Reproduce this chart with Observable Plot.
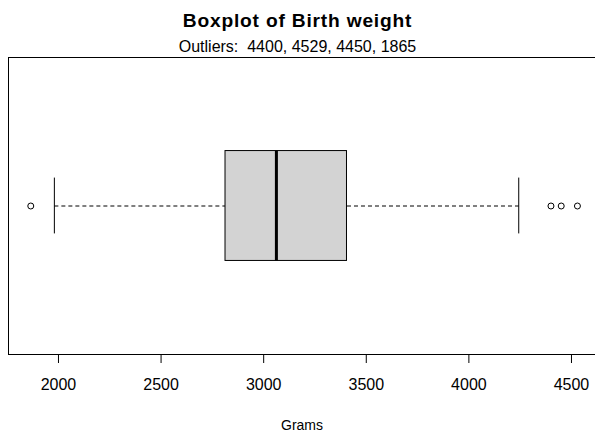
<!DOCTYPE html>
<html>
<head>
<meta charset="utf-8">
<script src="https://cdn.jsdelivr.net/npm/d3@7"></script>
<script src="https://cdn.jsdelivr.net/npm/@observablehq/plot@0.6"></script>
<style>
  html, body { margin: 0; padding: 0; background: #fff; }
  #wrap { position: relative; width: 595px; height: 436px; font-family: "Liberation Sans", Arial, sans-serif; color: #000; }
  #title { position: absolute; left: 0; width: 595px; top: 10.5px; text-align: center; font-weight: bold; font-size: 19.2px; line-height: 19.2px; letter-spacing: 0.8px; white-space: pre; }
  #subtitle { position: absolute; left: 0; width: 595px; top: 38.5px; text-align: center; font-size: 16px; line-height: 16px; white-space: pre; }
  #chart { position: absolute; left: 0; top: 56px; }
</style>
</head>
<body>
<div id="wrap">
  <div id="title"></div>
  <div id="subtitle"></div>
  <div id="chart"></div>
</div>
<script>
// ---- data ----
const titleText = "Boxplot of Birth weight";
const axisLabel = "Grams";
const groups = [1];                 // single boxplot position
const lowerWhisker = [1980];
const lowerHinge = [2814];
const medians = [3062];
const upperHinge = [3406];
const upperWhisker = [4243];
const outliers = [4400, 4529, 4450, 1865];
const tickValues = [2000, 2500, 3000, 3500, 4000, 4500];

// ---- table built from the arrays ----
const boxes = groups.map((g, i) => ({
  g, lo: lowerWhisker[i], q1: lowerHinge[i], med: medians[i], q3: upperHinge[i], hi: upperWhisker[i]
}));
const outlierRows = outliers.map(v => ({g: groups[0], v}));

document.getElementById("title").textContent = titleText;
document.getElementById("subtitle").textContent = "Outliers:  " + outliers.join(", ");

const boxHalf = 0.185;   // half box height in y units
const capHalf = 0.094;   // half staple height

const plot = Plot.plot({
  width: 595,
  height: 380,
  marginLeft: 8,
  marginRight: 0,
  marginTop: 1,
  marginBottom: 82,
  style: {fontFamily: '"Liberation Sans", Arial, sans-serif', fontSize: "16px", color: "#000", background: "#fff"},
  x: {domain: [1758.4, 4635.6], range: [8.4, 598.8]},
  y: {domain: [0.5, 1.5], axis: null},
  marks: [
    Plot.frame({anchor: "top", stroke: "#000"}),
    Plot.frame({anchor: "bottom", stroke: "#000"}),
    Plot.frame({anchor: "left", stroke: "#000"}),
    // whiskers (dashed)
    Plot.link(boxes, {x1: "lo", x2: "q1", y1: "g", y2: "g", stroke: "#000", strokeDasharray: "4,3", strokeWidth: 1}),
    Plot.link(boxes, {x1: "q3", x2: "hi", y1: "g", y2: "g", stroke: "#000", strokeDasharray: "4,3", strokeWidth: 1}),
    // staples
    Plot.ruleX(boxes, {x: "lo", y1: d => d.g - capHalf, y2: d => d.g + capHalf, stroke: "#000"}),
    Plot.ruleX(boxes, {x: "hi", y1: d => d.g - capHalf, y2: d => d.g + capHalf, stroke: "#000"}),
    // box
    Plot.rect(boxes, {x1: "q1", x2: "q3", y1: d => d.g - boxHalf, y2: d => d.g + boxHalf, fill: "#d3d3d3", stroke: "#000", strokeWidth: 1}),
    // median
    Plot.ruleX(boxes, {x: "med", y1: d => d.g - boxHalf, y2: d => d.g + boxHalf, stroke: "#000", strokeWidth: 3}),
    // outliers
    Plot.dot(outlierRows, {x: "v", y: "g", r: 3, stroke: "#000", fill: "#fff", strokeWidth: 1}),
    // axis
    Plot.axisX({ticks: tickValues, tickFormat: d => String(d), tickSize: 9, tickPadding: 15, fontSize: 16, label: null, stroke: "#000"}),
    Plot.text([axisLabel], {frameAnchor: "bottom", dy: 71, lineAnchor: "middle", fontSize: 14, fill: "#000"})
  ]
});
document.getElementById("chart").appendChild(plot);
</script>
</body>
</html>
